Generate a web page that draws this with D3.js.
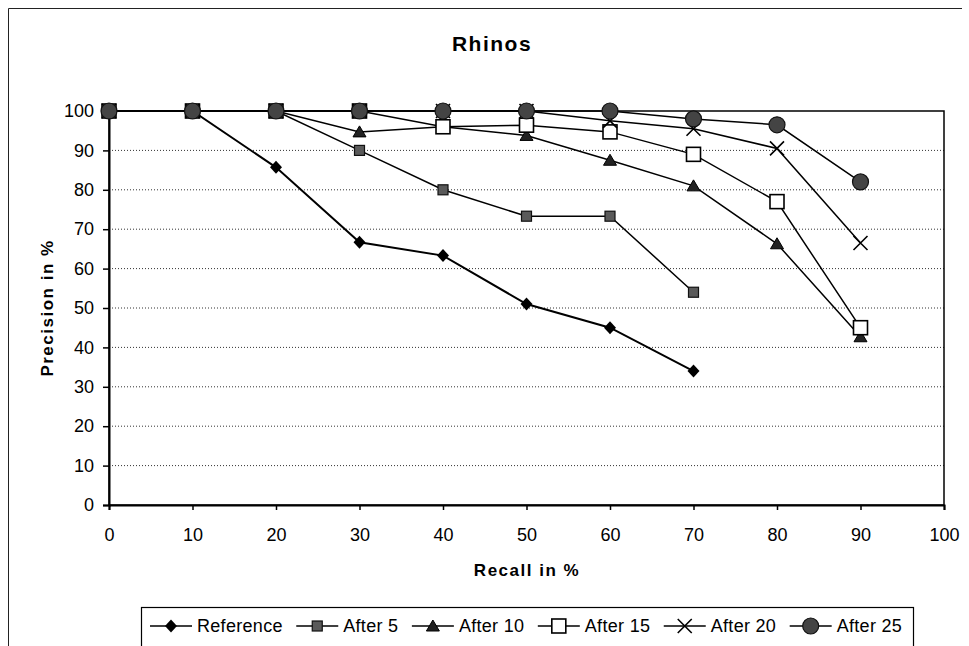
<!DOCTYPE html>
<html>
<head>
<meta charset="utf-8">
<script src="https://cdn.jsdelivr.net/npm/d3@7"></script>
<style>
  body { margin: 0; background: #fff; }
  text { font-family: Arial, "Liberation Sans", sans-serif; fill: #000; }
</style>
</head>
<body>
<div id="chart"></div>
<script>
const recall = [0, 10, 20, 30, 40, 50, 60, 70, 80, 90];
const xTicks = [0, 10, 20, 30, 40, 50, 60, 70, 80, 90, 100];
const yTicks = [0, 10, 20, 30, 40, 50, 60, 70, 80, 90, 100];

const reference = [100, 100, 85.7, 66.7, 63.3, 51, 45, 34];
const after5  = [100, 100, 100, 90, 80, 73.3, 73.3, 54];
const after10 = [100, 100, 100, 94.7, 96, 93.8, 87.5, 81, 66.3, 42.7];
const after15 = [100, 100, 100, 100, 96, 96.4, 94.7, 89, 77, 45];
const after20 = [100, 100, 100, 100, 100, 100, 97.5, 95.5, 90.5, 66.5];
const after25 = [100, 100, 100, 100, 100, 100, 100, 98, 96.5, 82];

const seriesNames = ["Reference", "After 5", "After 10", "After 15", "After 20", "After 25"];
const seriesValues = [reference, after5, after10, after15, after20, after25];
const markerTypes = ["diamond", "smallSquare", "triangle", "openSquare", "cross", "circle"];

const W = 969, H = 646;
const plot = { left: 109, top: 111, right: 944, bottom: 505 };

const svg = d3.select("#chart")
  .append("svg")
  .attr("width", W)
  .attr("height", H);

// outer chart border (top + left visible in the scan)
svg.append("path")
  .attr("d", `M8.5,646 V8.5 H962`)
  .attr("fill", "none")
  .attr("stroke", "#222")
  .attr("stroke-width", 1);

const x = d3.scaleLinear().domain([0, 100]).range([plot.left, plot.right]);
const y = d3.scaleLinear().domain([0, 100]).range([plot.bottom, plot.top]);

// gridlines
svg.append("g")
  .selectAll("line")
  .data(yTicks.filter(d => d > 0 && d < 100))
  .join("line")
  .attr("x1", plot.left)
  .attr("x2", plot.right)
  .attr("y1", d => y(d))
  .attr("y2", d => y(d))
  .attr("stroke", "#333")
  .attr("stroke-width", 1)
  .attr("stroke-dasharray", "1,2");

// plot area border
svg.append("rect")
  .attr("x", plot.left)
  .attr("y", plot.top)
  .attr("width", plot.right - plot.left)
  .attr("height", plot.bottom - plot.top)
  .attr("fill", "none")
  .attr("stroke", "#000")
  .attr("stroke-width", 1.5);

// axes
const xAxis = svg.append("g")
  .attr("transform", `translate(0,${plot.bottom})`)
  .call(d3.axisBottom(x).tickValues(xTicks).tickSize(5).tickPadding(18));

const yAxis = svg.append("g")
  .attr("transform", `translate(${plot.left},0)`)
  .call(d3.axisLeft(y).tickValues(yTicks).tickSize(6).tickPadding(9));

[xAxis, yAxis].forEach(g => {
  g.select(".domain").attr("stroke", "#000").attr("stroke-width", 2);
  g.selectAll(".tick line").attr("stroke", "#000").attr("stroke-width", 1.5);
  g.selectAll(".tick text")
    .style("font-family", "Arial, 'Liberation Sans', sans-serif")
    .style("font-size", "18px")
    .attr("fill", "#000");
});

// titles
svg.append("text")
  .attr("x", 492)
  .attr("y", 51)
  .attr("text-anchor", "middle")
  .style("font-size", "21px")
  .style("font-weight", "bold")
  .style("letter-spacing", "1.5px")
  .text("Rhinos");

svg.append("text")
  .attr("x", 527)
  .attr("y", 576)
  .attr("text-anchor", "middle")
  .style("font-size", "17px")
  .style("font-weight", "bold")
  .style("letter-spacing", "1.5px")
  .text("Recall in %");

svg.append("text")
  .attr("transform", "rotate(-90)")
  .attr("x", -(plot.top + plot.bottom) / 2)
  .attr("y", 53)
  .attr("text-anchor", "middle")
  .style("font-size", "17px")
  .style("font-weight", "bold")
  .style("letter-spacing", "1.5px")
  .text("Precision in %");

// marker drawing helper
function drawMarker(g, type, cx, cy) {
  if (type === "diamond") {
    g.append("path")
      .attr("d", `M${cx},${cy - 6.5} L${cx + 6},${cy} L${cx},${cy + 6.5} L${cx - 6},${cy} Z`)
      .attr("fill", "#000");
  } else if (type === "smallSquare") {
    g.append("rect")
      .attr("x", cx - 5).attr("y", cy - 5)
      .attr("width", 10).attr("height", 10)
      .attr("fill", "#5a5a5a")
      .attr("stroke", "#111").attr("stroke-width", 1.2);
  } else if (type === "triangle") {
    g.append("path")
      .attr("d", `M${cx},${cy - 6} L${cx + 6.5},${cy + 5} L${cx - 6.5},${cy + 5} Z`)
      .attr("fill", "#222")
      .attr("stroke", "#000").attr("stroke-width", 1);
  } else if (type === "openSquare") {
    g.append("rect")
      .attr("x", cx - 7).attr("y", cy - 7)
      .attr("width", 14).attr("height", 14)
      .attr("fill", "#fff")
      .attr("stroke", "#000").attr("stroke-width", 1.6);
  } else if (type === "cross") {
    g.append("path")
      .attr("d", `M${cx - 7},${cy - 7} L${cx + 7},${cy + 7} M${cx - 7},${cy + 7} L${cx + 7},${cy - 7}`)
      .attr("stroke", "#000").attr("stroke-width", 1.6)
      .attr("fill", "none");
  } else if (type === "circle") {
    g.append("circle")
      .attr("cx", cx).attr("cy", cy).attr("r", 8)
      .attr("fill", "#444")
      .attr("stroke", "#111").attr("stroke-width", 1.2);
  }
}

const line = d3.line()
  .x((d, i) => x(recall[i]))
  .y(d => y(d));

seriesValues.forEach((values, s) => {
  const g = svg.append("g");
  g.append("path")
    .datum(values)
    .attr("fill", "none")
    .attr("stroke", "#000")
    .attr("stroke-width", s === 0 ? 2 : 1.5)
    .attr("d", line);
  values.forEach((v, i) => drawMarker(g, markerTypes[s], x(recall[i]), y(v)));
});

// legend
const legend = svg.append("g");
legend.append("rect")
  .attr("x", 141.5)
  .attr("y", 607.5)
  .attr("width", 772)
  .attr("height", 45)
  .attr("fill", "#fff")
  .attr("stroke", "#000")
  .attr("stroke-width", 1.2);

let lx = 150;
const ly = 626;
seriesNames.forEach((name, s) => {
  legend.append("line")
    .attr("x1", lx).attr("x2", lx + 42)
    .attr("y1", ly).attr("y2", ly)
    .attr("stroke", "#000")
    .attr("stroke-width", 1.5);
  drawMarker(legend, markerTypes[s], lx + 21, ly);
  const t = legend.append("text")
    .attr("x", lx + 47)
    .attr("y", ly + 6)
    .style("font-size", "18px")
    .style("letter-spacing", "0.3px")
    .text(name);
  lx += 47 + t.node().getComputedTextLength() + 13.5;
});
</script>
</body>
</html>
